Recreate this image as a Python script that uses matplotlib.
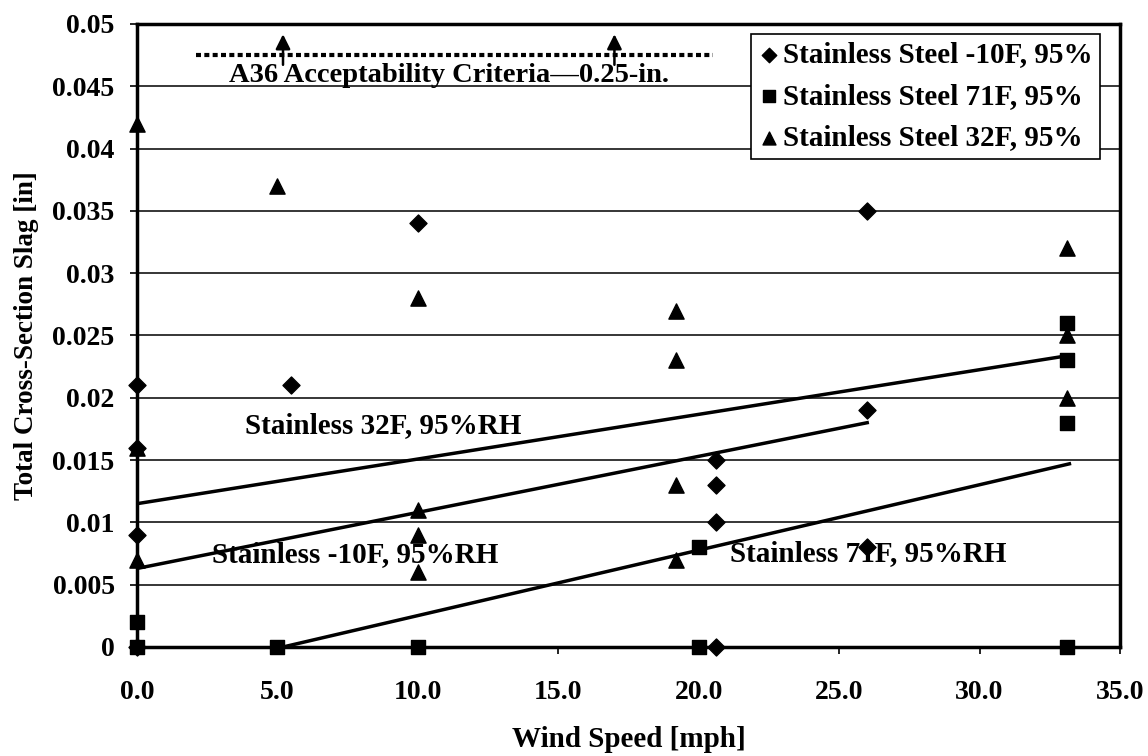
import matplotlib.pyplot as plt
import numpy as np

plt.rcParams['font.family'] = ['Liberation Serif', 'DejaVu Serif']
plt.rcParams['font.weight'] = 'bold'

# Data
ss_m10_x = [0, 0, 0, 0, 5.5, 10.0, 20.6, 20.6, 20.6, 20.6, 26.0, 26.0, 26.0]
ss_m10_y = [0.021, 0.016, 0.009, 0, 0.021, 0.034, 0.015, 0.013, 0.010, 0, 0.035, 0.019, 0.008]

ss_71_x = [0, 0, 5.0, 10.0, 20.0, 20.0, 33.1, 33.1, 33.1, 33.1]
ss_71_y = [0.002, 0, 0, 0, 0.008, 0, 0.026, 0.023, 0.018, 0]

ss_32_x = [0, 0, 0, 5.0, 10.0, 10.0, 10.0, 10.0, 19.2, 19.2, 19.2, 19.2, 33.1, 33.1, 33.1]
ss_32_y = [0.042, 0.016, 0.007, 0.037, 0.028, 0.011, 0.009, 0.006, 0.027, 0.023, 0.013, 0.007,
           0.032, 0.025, 0.020]

# trendline end points
trend_m10_x = [0, 26.0]
trend_m10_y = [0.0063, 0.0180]
trend_71_x = [5.2, 33.2]
trend_71_y = [0.0, 0.0147]
trend_32_x = [0, 33.2]
trend_32_y = [0.0115, 0.0234]

# acceptability criteria
crit_x = [2.1, 20.5]
crit_y = 0.0475
arrow_x = [5.2, 17.0]

fig = plt.figure(figsize=(11.48, 7.56), dpi=100)
ax = fig.add_axes([0.1193, 0.1442, 0.8563, 0.8241])

ax.set_xlim(0, 35)
ax.set_ylim(0, 0.05)
ax.set_yticks(np.arange(0, 0.0501, 0.005))
ax.set_yticklabels(['0', '0.005', '0.01', '0.015', '0.02', '0.025', '0.03', '0.035', '0.04', '0.045', '0.05'])
ax.set_xticks(np.arange(0, 35.1, 5))
ax.set_xticklabels(['%.1f' % v for v in np.arange(0, 35.1, 5)])
ax.tick_params(labelsize=20, direction='out', length=5, width=1.2)
ax.tick_params(axis='x', pad=19)
ax.tick_params(axis='y', pad=11)
ax.yaxis.grid(True, color='black', linewidth=1.1)
ax.set_axisbelow(True)
for s in ax.spines.values():
    s.set_linewidth(2.5)

ax.plot(trend_m10_x, trend_m10_y, color='black', lw=2.5)
ax.plot(trend_71_x, trend_71_y, color='black', lw=2.5)
ax.plot(trend_32_x, trend_32_y, color='black', lw=2.5)

ax.scatter(ss_m10_x, ss_m10_y, marker='D', s=75, color='black', clip_on=False, zorder=3,
           label='Stainless Steel -10F, 95%')
ax.scatter(ss_71_x, ss_71_y, marker='s', s=110, color='black', clip_on=False, zorder=3,
           label='Stainless Steel 71F, 95%')
ax.scatter(ss_32_x, ss_32_y, marker='^', s=120, color='black', clip_on=False, zorder=3,
           label='Stainless Steel 32F, 95%')

ax.plot(crit_x, [crit_y, crit_y], color='black', lw=3, linestyle=(0, (1.2, 0.8)))
for ax_x in arrow_x:
    ax.annotate('', xy=(ax_x, 0.0494), xytext=(ax_x, 0.0465),
                arrowprops=dict(arrowstyle='-|>', color='black', lw=1.8, mutation_scale=22))
ax.text(11.1, 0.0459, 'A36 Acceptability Criteria\u20140.25-in.', fontsize=20.5, fontweight='bold',
        ha='center', va='center')

ax.text(3.85, 0.0178, 'Stainless 32F, 95%RH', fontsize=21, fontweight='bold', va='center')
ax.text(2.67, 0.0074, 'Stainless -10F, 95%RH', fontsize=21, fontweight='bold', va='center')
ax.text(21.1, 0.0075, 'Stainless 71F, 95%RH', fontsize=21, fontweight='bold', va='center')

ax.set_xlabel('Wind Speed [mph]', fontsize=21, fontweight='bold', labelpad=15)
ax.set_ylabel('Total Cross-Section Slag [in]', fontsize=19.5, fontweight='bold', labelpad=10)

leg = ax.legend(loc='upper right', bbox_to_anchor=(0.9797, 0.984), fontsize=21, frameon=True,
                fancybox=False, edgecolor='black', framealpha=1, handletextpad=0.15,
                labelspacing=0.5, borderpad=0.25, borderaxespad=0, markerscale=0.85,
                handlelength=0.7)
leg.get_frame().set_linewidth(1.2)

plt.savefig('out.png', dpi=100)
